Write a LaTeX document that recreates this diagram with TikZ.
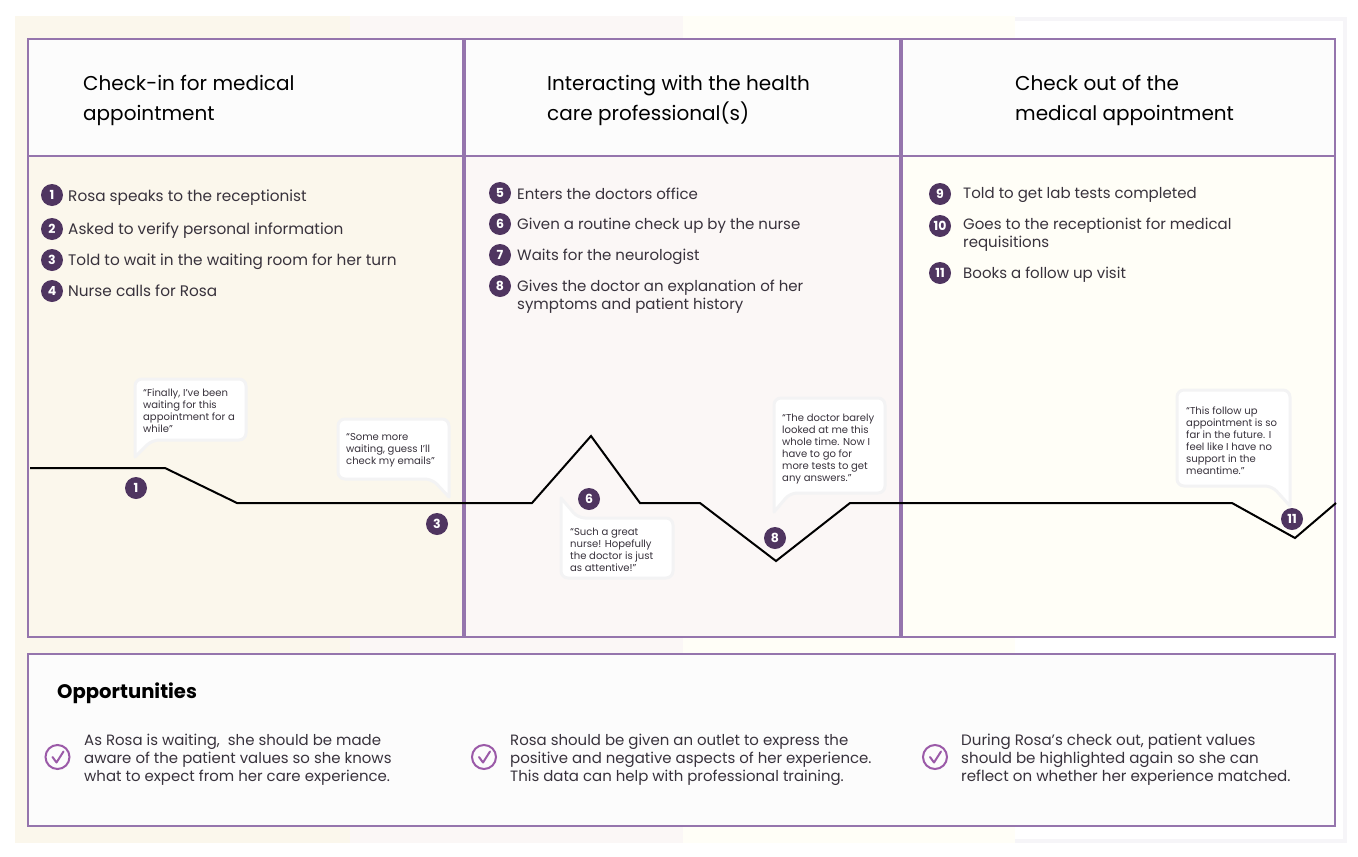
\documentclass[tikz,border=0pt]{standalone}
\usepackage{fontspec}
\setmainfont{Poppins}
\usetikzlibrary{calc}
\definecolor{frameC}{HTML}{9575AD}
\definecolor{badgeC}{HTML}{4F3560}
\definecolor{checkC}{HTML}{9B5AA8}
\definecolor{bgA}{HTML}{FBF7EC}
\definecolor{bgB}{HTML}{FBF7F6}
\definecolor{bgC}{HTML}{FFFEF7}
\definecolor{headC}{HTML}{FCFCFC}
\definecolor{edgeC}{HTML}{F6F5F8}
\definecolor{bubbleC}{HTML}{F3F3F4}
\definecolor{bodyC}{HTML}{38323C}
\tikzset{
  x=1pt,y=-1pt,
  framed/.style={draw=frameC,line width=2pt},
  divider/.style={draw=frameC,line width=4pt},
  heading/.style={anchor=west,inner sep=0,align=left,font=\fontsize{20}{30}\selectfont,text=black},
  item/.style={anchor=west,inner sep=0,align=left,font=\fontsize{15.0}{18}\selectfont,text=bodyC},
  itemwide/.style={anchor=west,inner sep=0,align=left,font=\fontsize{15.3}{18}\selectfont,text=bodyC},
  opp/.style={anchor=west,inner sep=0,align=left,font=\fontsize{14.95}{18}\selectfont,text=bodyC},
  oppwide/.style={anchor=west,inner sep=0,align=left,font=\fontsize{15.1}{18}\selectfont,text=bodyC},
  quote/.style={anchor=north west,inner sep=0,align=left,font=\fontsize{10.05}{12}\selectfont,text=bodyC},
  badge/.style={circle,fill=badgeC,text=white,minimum size=22pt,inner sep=0,font=\fontsize{12.5}{12.5}\selectfont\bfseries},
  bubble/.style={draw=bubbleC,fill=white,line width=3pt,rounded corners=7pt,line join=round},
  journey/.style={draw=black,line width=2pt,line join=miter},
  checkring/.style={circle,draw=checkC,line width=2pt,minimum size=24pt,inner sep=0},
  tick/.style={draw=checkC,line width=2pt,line cap=round,line join=round}
}
\newcommand{\tickmark}[1]{\draw[tick] ($(#1)+(-5,0)$) -- ($(#1)+(-1,5.5)$) -- ($(#1)+(6,-5.5)$);}
\begin{document}
\begin{tikzpicture}
\useasboundingbox (0,0) rectangle (1358,857);
% background bands
\fill[bgA] (15,16) rectangle (350,843);
\fill[bgB] (350,16) rectangle (683,843);
\fill[bgC] (683,16) rectangle (1015,843);
\fill[edgeC] (1015,17) rectangle (1347,843);
\fill[white] (1015,21) rectangle (1343,839);
% panels
\fill[bgA] (28,156) rectangle (463,637);
\fill[bgB] (463,156) rectangle (900,637);
\fill[bgC] (900,156) rectangle (1335,637);
\fill[headC] (28,39) rectangle (1335,156);
\draw[divider] (463.5,39) -- (463.5,637);
\draw[divider] (900.5,39) -- (900.5,637);
\draw[framed] (28,156) -- (1335,156);
\draw[framed] (28,39) rectangle (1335,637);
\draw[framed,fill=headC] (28,654) rectangle (1335,826);
% headings
\node[heading] (h1) at (83,100) {Check-in for medical\\appointment};
\node[heading] (h2) at (547,100) {Interacting with the health\\care professional(s)};
\node[heading] (h3) at (1015,100) {Check out of the\\medical appointment};
% list 1
\node[badge] (a1) at (52,195) {1};
\node[badge] (a2) at (52,229) {2};
\node[badge] (a3) at (52,260) {3};
\node[badge] (a4) at (52,291) {4};
\node[itemwide] (t1) at (68,198) {Rosa speaks to the receptionist};
\node[itemwide] (t2) at (68,231) {Asked to verify personal information};
\node[itemwide] (t3) at (68,262) {Told to wait in the waiting room for her turn};
\node[itemwide] (t4) at (68,291) {Nurse calls for Rosa};
% list 2
\node[badge] (a5) at (500,193) {5};
\node[badge] (a6) at (500,224) {6};
\node[badge] (a7) at (500,255) {7};
\node[badge] (a8) at (500,286) {8};
\node[item] (t5) at (517,193.5) {Enters the doctors office};
\node[item] (t6) at (517,226) {Given a routine check up by the nurse};
\node[item] (t7) at (517,257) {Waits for the neurologist};
\node[item] (t8) at (517,297) {Gives the doctor an explanation of her\\symptoms and patient history};
% list 3
\node[badge] (a9) at (940,194) {9};
\node[badge] (a10) at (940,226) {10};
\node[badge] (a11) at (940,273) {11};
\node[item] (t9) at (963,195) {Told to get lab tests completed};
\node[item] (t10) at (963,235) {Goes to the receptionist for medical\\requisitions};
\node[item] (t11) at (963,275) {Books a follow up visit};
% bubbles
\draw[bubble] (135,457) [sharp corners] -- (135,400) [rounded corners=7pt] -- (135,379) -- (246,379) -- (246,440) -- (152,440) [sharp corners] -- cycle;
\draw[bubble] (449,497) [sharp corners] -- (449,460) [rounded corners=7pt] -- (449,419) -- (338,419) -- (338,479) -- (432,479) [sharp corners] -- cycle;
\draw[bubble] (561,498) [sharp corners] -- (561,540) [rounded corners=7pt] -- (561,578) -- (673,578) -- (673,518) -- (578,518) [sharp corners] -- cycle;
\draw[bubble] (774,512) [sharp corners] -- (774,450) [rounded corners=7pt] -- (774,398) -- (885,398) -- (885,493) -- (790,493) [sharp corners] -- cycle;
\draw[bubble] (1290,506) [sharp corners] -- (1290,440) [rounded corners=7pt] -- (1290,390) -- (1177,390) -- (1177,486) -- (1272,486) [sharp corners] -- cycle;
\node[quote] (q1) at (143,389) {“Finally, I’ve been\\waiting for this\\appointment for a\\while”};
\node[quote] (q3) at (346,433.5) {“Some more\\waiting, guess I’ll\\check my emails”};
\node[quote] (q6) at (570,528) {“Such a great\\nurse! Hopefully\\the doctor is just\\as attentive!”};
\node[quote] (q8) at (782,413.5) {“The doctor barely\\looked at me this\\whole time. Now I\\have to go for\\more tests to get\\any answers.”};
\node[quote] (q11) at (1186,406.5) {“This follow up\\appointment is so\\far in the future. I\\feel like I have no\\support in the\\meantime.”};
% journey line
\draw[journey] (30,468) -- (165,468) -- (237,503) -- (532,503) -- (591,436) -- (640,503) -- (700,503) -- (776,561) -- (850,503) -- (1232,503) -- (1295,538) -- (1336,503);
\node[badge] (b1) at (136,488) {1};
\node[badge] (b3) at (437,524) {3};
\node[badge] (b6) at (589,499) {6};
\node[badge] (b8) at (775,538) {8};
\node[badge] (b11) at (1292,519) {11};
% opportunities
\node[anchor=west,inner sep=0,font=\fontsize{19.6}{24}\selectfont\bfseries,text=black] (otitle) at (57,693) {Opportunities};
\node[checkring] (c1) at (57.5,757) {};
\node[checkring] (c2) at (484,757) {};
\node[checkring] (c3) at (935,757) {};
\tickmark{c1}\tickmark{c2}\tickmark{c3}
\node[opp] (o1) at (84,760) {As Rosa is waiting,\ \ she should be made\\aware of the patient values so she knows\\what to expect from her care experience.};
\node[opp] (o2) at (510,760) {Rosa should be given an outlet to express the\\positive and negative aspects of her experience.\\This data can help with professional training.};
\node[oppwide] (o3) at (961,760) {During Rosa’s check out, patient values\\should be highlighted again so she can\\reflect on whether her experience matched.};
\end{tikzpicture}
\end{document}
